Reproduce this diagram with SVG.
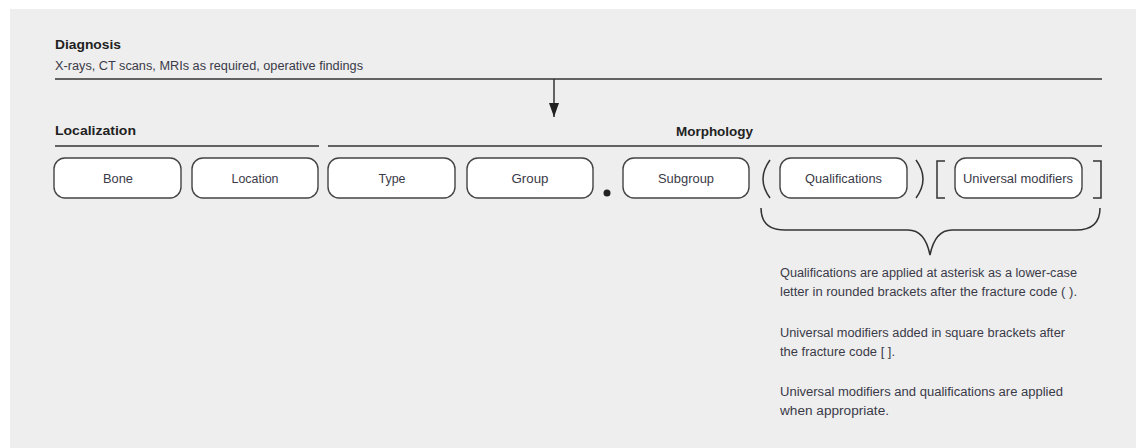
<svg xmlns="http://www.w3.org/2000/svg" width="1136" height="448" viewBox="0 0 1136 448">
<style>
text{font-family:"Liberation Sans Narrow","Liberation Sans",Arial,sans-serif;fill:#3a3a48;font-size:12.5px}
.b{font-weight:bold;fill:#222}
.box{fill:#fff;stroke:#444;stroke-width:1.4}
.ln{stroke:#333;stroke-width:1.5;fill:none}
.t{text-anchor:middle}
</style>
<defs>
<marker id="ah" markerWidth="14" markerHeight="10" refX="14" refY="5" orient="auto" markerUnits="userSpaceOnUse" viewBox="0 0 14 10">
<path d="M0,0 L14,5 L0,10 Z" fill="#222"/>
</marker>
</defs>
<rect x="10" y="9" width="1126" height="439" fill="#eeeeee"/>
<g id="header">
<text class="b" x="55" y="49" textLength="66" lengthAdjust="spacingAndGlyphs">Diagnosis</text>
<text x="55" y="70" textLength="308" lengthAdjust="spacingAndGlyphs">X-rays, CT scans, MRIs as required, operative findings</text>
<text class="b" x="55" y="135" textLength="81" lengthAdjust="spacingAndGlyphs">Localization</text>
<text class="b" x="676" y="136" textLength="77" lengthAdjust="spacingAndGlyphs">Morphology</text>
</g>
<g id="connectors">
<line class="ln" x1="55" y1="79" x2="1102" y2="79"/>
<line class="ln" x1="554" y1="79" x2="554" y2="117" marker-end="url(#ah)"/>
<line class="ln" x1="55" y1="146" x2="319" y2="146"/>
<line class="ln" x1="328" y1="146" x2="1102" y2="146"/>
<path class="ln" d="M770,160 Q756,179 770,198"/>
<path class="ln" d="M916,160 Q930,179 916,198"/>
<path class="ln" d="M945,161 H937 V198 H945"/>
<path class="ln" d="M1093,161 H1101 V198 H1093"/>
<path class="ln" d="M761,208 Q761,230 785,230 H908 Q925,230 930,255 Q935,230 952,230 H1076 Q1100,230 1100,208"/>
<circle cx="607" cy="193" r="3.5" fill="#222"/>
</g>
<g id="bone"><rect class="box" x="54" y="158" width="127" height="40" rx="11"/><text class="t" x="118" y="183" textLength="30" lengthAdjust="spacingAndGlyphs">Bone</text></g>
<g id="location"><rect class="box" x="192" y="158" width="126" height="40" rx="11"/><text class="t" x="255" y="183" textLength="47" lengthAdjust="spacingAndGlyphs">Location</text></g>
<g id="type"><rect class="box" x="328" y="158" width="127" height="40" rx="11"/><text class="t" x="392" y="183" textLength="27" lengthAdjust="spacingAndGlyphs">Type</text></g>
<g id="group"><rect class="box" x="467" y="158" width="126" height="40" rx="11"/><text class="t" x="530" y="183" textLength="37" lengthAdjust="spacingAndGlyphs">Group</text></g>
<g id="subgroup"><rect class="box" x="623" y="158" width="126" height="40" rx="11"/><text class="t" x="686" y="183" textLength="56" lengthAdjust="spacingAndGlyphs">Subgroup</text></g>
<g id="qualifications"><rect class="box" x="780" y="158" width="127" height="40" rx="11"/><text class="t" x="843.5" y="183" textLength="77" lengthAdjust="spacingAndGlyphs">Qualifications</text></g>
<g id="universal-modifiers"><rect class="box" x="955" y="158" width="127" height="40" rx="11"/><text class="t" x="1018" y="183" textLength="110" lengthAdjust="spacingAndGlyphs">Universal modifiers</text></g>
<g id="notes">
<text x="780" y="277" textLength="297" lengthAdjust="spacingAndGlyphs">Qualifications are applied at asterisk as a lower-case</text>
<text x="780" y="296" textLength="297" lengthAdjust="spacingAndGlyphs">letter in rounded brackets after the fracture code ( ).</text>
<text x="780" y="337" textLength="285" lengthAdjust="spacingAndGlyphs">Universal modifiers added in square brackets after</text>
<text x="780" y="356" textLength="115" lengthAdjust="spacingAndGlyphs">the fracture code [ ].</text>
<text x="780" y="396" textLength="283" lengthAdjust="spacingAndGlyphs">Universal modifiers and qualifications are applied</text>
<text x="780" y="415" textLength="109" lengthAdjust="spacingAndGlyphs">when appropriate.</text>
</g>
</svg>
